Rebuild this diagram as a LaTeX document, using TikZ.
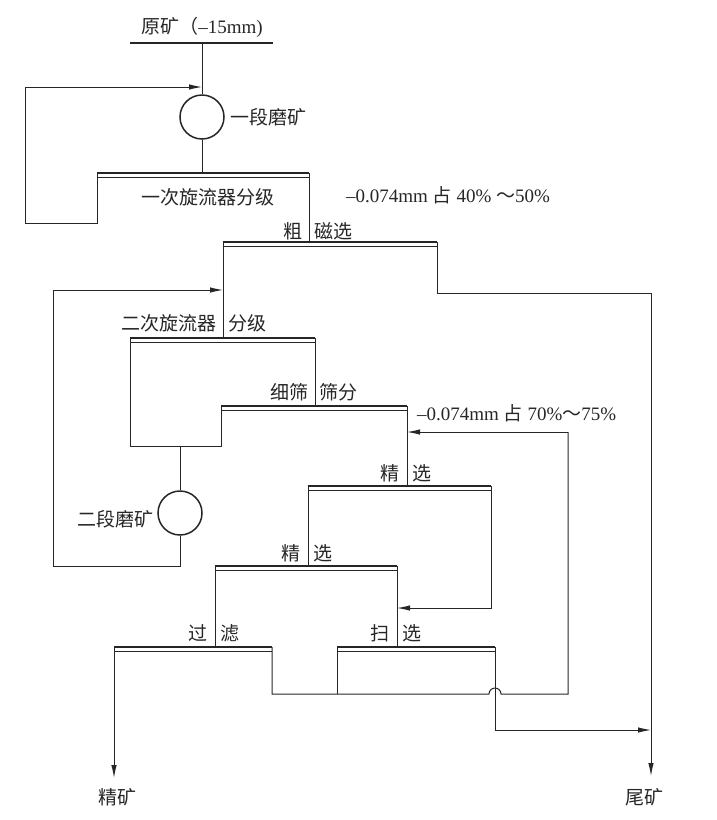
\documentclass[tikz,border=0pt]{standalone}
\usepackage{fontspec}
\setmainfont{Liberation Serif}
\newfontfamily\cjk{Noto Sans CJK SC}
\usetikzlibrary{arrows.meta,calc}
\tikzset{
  flow/.style={draw=black!85, line width=1pt},
  feed/.style={flow, -{Latex[length=13pt,width=5.5pt]}},
  bar/.style={draw=black!85, line width=2.2pt,
    postaction={draw, line width=0.9pt, transform canvas={yshift=-4.2pt}}},
  mill/.style={circle, draw=black!85, line width=1.5pt, minimum size=44pt, inner sep=0pt},
  lbl/.style={font={\cjk\fontsize{19}{22}\selectfont}, text=black!85, inner sep=1pt},
  txt/.style={font=\fontsize{19}{22}\selectfont, text=black!85, inner sep=1pt}
}
\begin{document}
\begin{tikzpicture}[x=1pt,y=-1pt]
  \useasboundingbox (0,0) rectangle (717,820);
  % bar ends
  \coordinate (feedL) at (130,43);  \coordinate (feedR) at (273,43);
  \coordinate (feedM) at (202,43);
  \coordinate (cyc1L) at (97,173);  \coordinate (cyc1R) at (309,173);
  \coordinate (magL) at (223,242);  \coordinate (magR) at (437,242);
  \coordinate (cyc2L) at (130,338); \coordinate (cyc2R) at (315,338);
  \coordinate (scrL) at (221,406);  \coordinate (scrR) at (407,406);
  \coordinate (cl1L) at (308,486);  \coordinate (cl1R) at (491,486);
  \coordinate (cl2L) at (215,566);  \coordinate (cl2R) at (397,566);
  \coordinate (filL) at (114,647);  \coordinate (filR) at (272,647);
  \coordinate (scvL) at (337,647);  \coordinate (scvR) at (495,647);
  % turning points
  \coordinate (loop1) at (25,87);   \coordinate (loop1b) at (25,223);
  \coordinate (loop2) at (53,290);  \coordinate (loop2b) at (53,566);
  \coordinate (uf) at (221,446);
  \coordinate (tailTurn) at (651,293); \coordinate (tailEnd) at (651,776);
  \coordinate (ret) at (568,432);
  \coordinate (cl1t) at (397,608);
  \coordinate (hop) at (489,694);
  \coordinate (scvt) at (651,730);
  \coordinate (concEnd) at (114,778);

  \node[mill] (mill1) at (202,117) {};
  \node[mill] (mill2) at (180,513) {};

  % screens and cells
  \draw[draw=black!85, line width=1.6pt] (feedL) -- (feedR);
  \draw[bar] (cyc1L) -- (cyc1R);
  \draw[bar] (magL) -- (magR);
  \draw[bar] (cyc2L) -- (cyc2R);
  \draw[bar] (scrL) -- (scrR);
  \draw[bar] (cl1L) -- (cl1R);
  \draw[bar] (cl2L) -- (cl2R);
  \draw[bar] (filL) -- (filR);
  \draw[bar] (scvL) -- (scvR);

  % flows
  \draw[flow] (feedM) -- (mill1);
  \draw[flow] (mill1) -- (mill1 |- cyc1L);
  \draw[feed] (cyc1L) -- (cyc1L |- loop1b) -- (loop1b) -- (loop1) -- (loop1 -| feedM);
  \draw[flow] (cyc1R) -- (cyc1R |- magL);
  \draw[feed] (magR) |- (tailTurn) -- (tailEnd);
  \draw[flow] (magL) -- (magL |- cyc2L);
  \draw[feed] (mill2) -- (mill2 |- loop2b) -- (loop2b) -- (loop2) -- (loop2 -| magL);
  \draw[flow] (cyc2L) |- (uf) -- (scrL);
  \draw[flow] (mill2) -- (mill2 |- uf);
  \draw[flow] (cyc2R) -- (cyc2R |- scrL);
  \draw[flow] (scrR) -- (scrR |- cl1L);
  \draw[feed] (ret) -- (ret -| scrR);
  \draw[feed] (cl1R) |- (cl1t);
  \draw[flow] (cl1L) -- (cl1L |- cl2L);
  \draw[flow] (cl2L) -- (cl2L |- filL);
  \draw[flow] (cl2R) -- (cl2R |- scvL);
  \draw[feed] (filL) -- (concEnd);
  \draw[flow] (filR) |- (hop) arc[start angle=180, end angle=360, radius=6] -| (ret);
  \draw[flow] (scvL) -- (scvL |- hop);
  \draw[feed] (scvR) |- (scvt);

  % labels
  \node[txt] (feedT) at (202,27) {{\cjk 原矿（}–15mm)};
  \node[lbl, anchor=west] (mill1T) at (229,117) {一段磨矿};
  \node[lbl] (cyc1T) at (208,197) {一次旋流器分级};
  \node[txt, anchor=west] (size1T) at (345,195) {–0.074mm {\cjk 占} 40\% {\cjk ～}50\%};
  \node[lbl, anchor=east] (magT1) at (304,231) {粗};
  \node[lbl, anchor=west] (magT2) at (313,231) {磁选};
  \node[lbl, anchor=east] (cyc2T1) at (218,323) {二次旋流器};
  \node[lbl, anchor=west] (cyc2T2) at (227,323) {分级};
  \node[lbl, anchor=east] (scrT1) at (310,392) {细筛};
  \node[lbl, anchor=west] (scrT2) at (318,392) {筛分};
  \node[txt, anchor=west] (size2T) at (416,413) {–0.074mm {\cjk 占} 70\%{\cjk ～}75\%};
  \node[lbl, anchor=east] (cl1T1) at (401,473) {精};
  \node[lbl, anchor=west] (cl1T2) at (411,473) {选};
  \node[lbl, anchor=east] (mill2T) at (155,519) {二段磨矿};
  \node[lbl, anchor=east] (cl2T1) at (302,553) {精};
  \node[lbl, anchor=west] (cl2T2) at (312,553) {选};
  \node[lbl, anchor=east] (filT1) at (209,633) {过};
  \node[lbl, anchor=west] (filT2) at (219,633) {滤};
  \node[lbl, anchor=east] (scvT1) at (391,633) {扫};
  \node[lbl, anchor=west] (scvT2) at (401,633) {选};
  \node[lbl] (concT) at (117,797) {精矿};
  \node[lbl] (tailT) at (644,797) {尾矿};
\end{tikzpicture}
\end{document}
